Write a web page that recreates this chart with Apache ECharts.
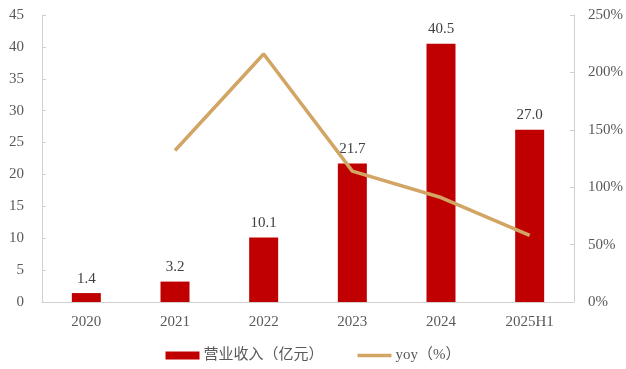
<!DOCTYPE html>
<html>
<head>
<meta charset="utf-8">
<script src="https://cdn.jsdelivr.net/npm/echarts@6/dist/echarts.min.js"></script>
<style>
html,body{margin:0;padding:0;background:#fff;}
#chart{width:626px;height:369px;}
</style>
</head>
<body>
<div id="chart"></div>
<script>
// Revenue (100 million yuan) and year-on-year growth (%)
const categories = ['2020', '2021', '2022', '2023', '2024', '2025H1'];
const revenue = [1.4, 3.2, 10.1, 21.7, 40.5, 27.0];
const yoy = [null, 132, 216, 114, 91, 58];
const leftTicks = [0, 5, 10, 15, 20, 25, 30, 35, 40, 45];
const rightTicks = [0, 50, 100, 150, 200, 250];

const font = '"Liberation Serif", "Times New Roman", "Noto Sans CJK SC", serif';
const textColor = '#595959';
const axisColor = '#d0d0d0';
const lineColor = '#d2a565';

const chart = echarts.init(document.getElementById('chart'));
chart.setOption({
  animation: false,
  textStyle: { fontFamily: font },
  grid: { left: 42, right: 51, top: 15, bottom: 67 },
  legend: {
    bottom: 1,
    left: 'center',
    itemGap: 34,
    itemWidth: 34,
    itemHeight: 8,
    textStyle: { color: textColor, fontSize: 15, fontFamily: font, padding: [0, 0, 0, -1] },
    data: [
      { name: '营业收入（亿元）', icon: 'rect' },
      { name: 'yoy（%）', icon: 'path://M0,0L68,0L68,7L0,7Z', itemStyle: { color: lineColor } }
    ]
  },
  xAxis: {
    type: 'category',
    data: categories,
    axisLine: { lineStyle: { color: axisColor } },
    axisTick: { show: false },
    axisLabel: { color: textColor, fontSize: 15, margin: 13, fontFamily: font }
  },
  yAxis: [
    {
      type: 'value',
      min: leftTicks[0],
      max: leftTicks[leftTicks.length - 1],
      interval: 5,
      splitLine: { show: false },
      axisLine: { show: true, lineStyle: { color: axisColor } },
      axisTick: { show: true, inside: true, length: 4, lineStyle: { color: axisColor } },
      axisLabel: { color: textColor, fontSize: 15, margin: 18, fontFamily: font }
    },
    {
      type: 'value',
      min: rightTicks[0],
      max: rightTicks[rightTicks.length - 1],
      interval: 50,
      splitLine: { show: false },
      axisLine: { show: true, lineStyle: { color: axisColor } },
      axisTick: { show: true, inside: true, length: 4, lineStyle: { color: axisColor } },
      axisLabel: { color: textColor, fontSize: 15, margin: 14, fontFamily: font, formatter: '{value}%' }
    }
  ],
  series: [
    {
      name: '营业收入（亿元）',
      type: 'bar',
      data: revenue,
      barWidth: 29,
      itemStyle: { color: '#c00000' },
      label: {
        show: true,
        position: 'top',
        distance: 7,
        color: '#404040',
        fontSize: 15,
        fontFamily: font,
        formatter: p => p.value.toFixed(1)
      }
    },
    {
      name: 'yoy（%）',
      type: 'line',
      yAxisIndex: 1,
      data: yoy,
      symbol: 'none',
      lineStyle: { color: lineColor, width: 3.5 },
      itemStyle: { color: lineColor }
    }
  ]
});
</script>
</body>
</html>
